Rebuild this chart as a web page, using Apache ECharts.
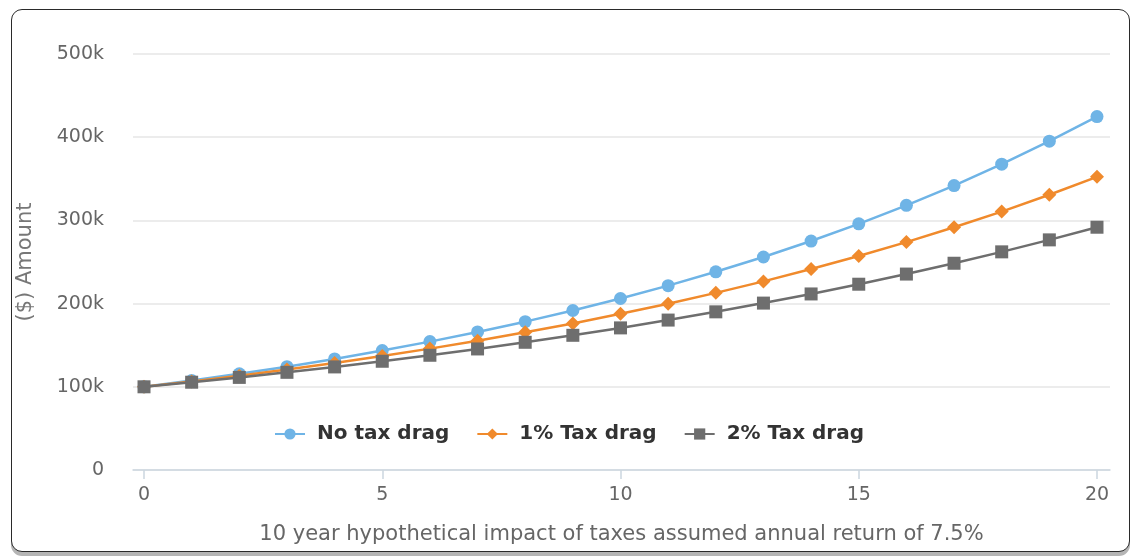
<!DOCTYPE html>
<html>
<head>
<meta charset="utf-8">
<script src="https://cdn.jsdelivr.net/npm/echarts@6/dist/echarts.min.js"></script>
<style>
html,body{margin:0;padding:0;background:#fff;}
#frame{position:absolute;left:11px;top:9px;width:1117px;height:541px;border:1.5px solid #2a2a2a;border-radius:11px;box-shadow:0 4px 0 #b5b5b5;background:#fff;}
#chart{position:absolute;left:0;top:0;width:1138px;height:559px;}
</style>
</head>
<body>
<div id="frame"></div>
<div id="chart"></div>
<script>
var years = [0,1,2,3,4,5,6,7,8,9,10,11,12,13,14,15,16,17,18,19,20];
var noTaxDrag = [100000,107500,115600,124200,133500,143600,154300,165900,178300,191700,206100,221600,238200,256000,275200,295900,318100,341900,367600,395200,424800];
var taxDrag1 = [100000,106500,113400,120800,128600,137000,145900,155400,165500,176200,187700,199900,212900,226700,241500,257200,273900,291700,310600,330800,352400];
var taxDrag2 = [100000,105500,111300,117400,123900,130700,137900,145500,153500,161900,170800,180200,190100,200600,211600,223300,235500,248500,262200,276600,291800];
var xTicks = [0,5,10,15,20];
var seriesNames = ['No tax drag','1% Tax drag','2% Tax drag'];
var xName = '10 year hypothetical impact of taxes assumed annual return of 7.5%';
var yName = '($) Amount';

function pairs(vals){ return years.map(function(y,i){ return [y, vals[i]]; }); }

var chart = echarts.init(document.getElementById('chart'), null, {renderer:'canvas'});
var font = 'DejaVu Sans, Verdana, sans-serif';
chart.setOption({
  animation:false,
  backgroundColor:'transparent',
  textStyle:{fontFamily:font},
  grid:{left:133,right:28,top:54,bottom:89,containLabel:false},
  legend:{
    top:419,left:'center',itemWidth:30,itemHeight:14,itemGap:27,
    textStyle:{fontSize:20,fontWeight:'bold',color:'#333',fontFamily:font,padding:[0,0,0,7]},
    data:seriesNames
  },
  xAxis:{
    type:'value',min:-0.231,max:20.273,
    name:xName,nameLocation:'middle',nameGap:54,
    nameTextStyle:{fontSize:21,color:'#666',fontFamily:font},
    axisLine:{show:true,lineStyle:{color:'#ccd6e0',width:1.5}},
    axisTick:{show:true,length:9,lineStyle:{color:'#ccd6e0',width:1.5},customValues:xTicks},
    axisLabel:{fontSize:19,color:'#666',margin:16,customValues:xTicks,fontFamily:font},
    splitLine:{show:false}
  },
  yAxis:{
    type:'value',min:0,max:500000,interval:100000,
    name:yName,nameLocation:'middle',nameGap:97,
    nameTextStyle:{fontSize:21,color:'#777',fontFamily:font},
    axisLine:{show:false},axisTick:{show:false},
    axisLabel:{fontSize:19,color:'#666',margin:29,fontFamily:font,
      formatter:function(v){return v===0?'0':(v/1000)+'k';}},
    splitLine:{show:true,lineStyle:{color:'#e6e6e6',width:1.5}}
  },
  series:[
    {name:seriesNames[0],type:'line',data:pairs(noTaxDrag),symbol:'circle',symbolSize:13,
     itemStyle:{color:'#6fb4e6'},lineStyle:{color:'#6fb4e6',width:2.5},z:3},
    {name:seriesNames[1],type:'line',data:pairs(taxDrag1),symbol:'diamond',symbolSize:14,
     itemStyle:{color:'#f08a2c'},lineStyle:{color:'#f08a2c',width:2.5},z:4},
    {name:seriesNames[2],type:'line',data:pairs(taxDrag2),symbol:'rect',symbolSize:13,
     itemStyle:{color:'#6e6e6e'},lineStyle:{color:'#6e6e6e',width:2.5},z:5}
  ]
});
</script>
</body>
</html>
